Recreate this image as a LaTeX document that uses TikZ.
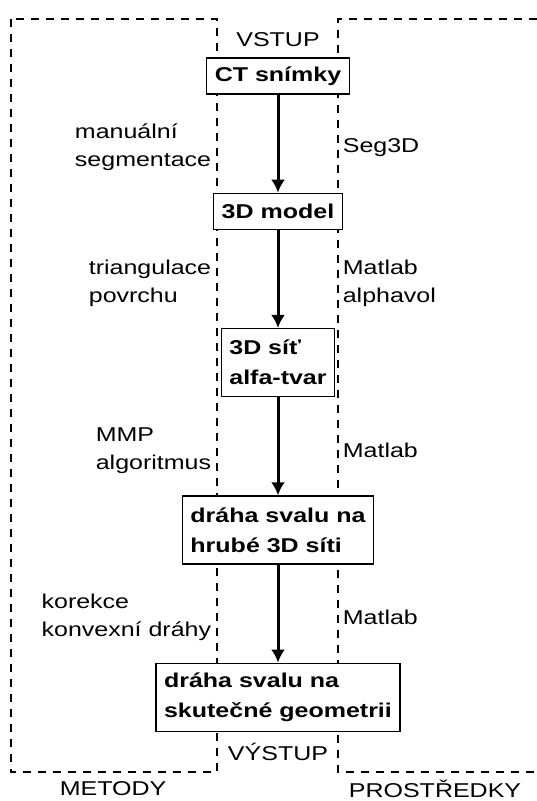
\documentclass[tikz,border=0pt]{standalone}
\usepackage{fontspec}
\setmainfont{Liberation Sans}[FakeStretch=1.25]
\usetikzlibrary{positioning, arrows.meta}
\tikzstyle{every node}=[font=\fontsize{20}{28}\selectfont]
\tikzstyle{block} = [rectangle, draw, fill=white, line width=1.3pt, align=left, font=\fontsize{20}{30}\selectfont\bfseries, inner xsep=8pt, minimum height=36pt]
\tikzstyle{tall} = [minimum height=68pt]
\tikzstyle{line} = [draw, line width=3pt, -{Latex[length=13pt,width=14pt]}]
\tikzstyle{region} = [draw, line width=2.6pt, dash pattern=on 8pt off 7pt]
\tikzstyle{method} = [anchor=east, align=left, xshift=-62pt, yshift=-4pt]
\tikzstyle{tool} = [anchor=west, align=left, xshift=60pt, yshift=-4pt]

\begin{document}
\begin{tikzpicture}[x=1pt, y=1pt, node distance=98pt]
    \useasboundingbox (0,0) rectangle (537,-801);
    % Dashed regions
    \path [region] (11,-19) rectangle (217,-772);
    \path [region] (537,-19) -- (338,-19) -- (338,-772) -- (537,-772);
    \node at (113,-789) (metody) {METODY};
    \node at (435,-789) (prostredky) {PROSTŘEDKY};
    % Place nodes
    \node at (278,-40) (vstup) {VSTUP};
    \node [block] at (278,-76) (ct) {CT snímky};
    \node [block, below=of ct] (model) {3D model};
    \node [block, tall, below=of model] (sit) {3D síť\\alfa-tvar};
    \node [block, tall, below=of sit] (hruba) {dráha svalu na\\hrubé 3D síti};
    \node [block, tall, below=of hruba] (skut) {dráha svalu na\\skutečné geometrii};
    \node at (278,-752) (vystup) {VÝSTUP};
    % Draw edges
    \path [line] (ct) -- node[midway, method] (met1) {manuální\\segmentace} node[midway, tool] (nas1) {Seg3D} (model);
    \path [line] (model) -- node[midway, method] (met2) {triangulace\\povrchu} node[midway, tool] (nas2) {Matlab\\alphavol} (sit);
    \path [line] (sit) -- node[midway, method] (met3) {MMP\\algoritmus} node[midway, tool] (nas3) {Matlab} (hruba);
    \path [line] (hruba) -- node[midway, method] (met4) {korekce\\konvexní dráhy} node[midway, tool] (nas4) {Matlab} (skut);
\end{tikzpicture}
\end{document}
